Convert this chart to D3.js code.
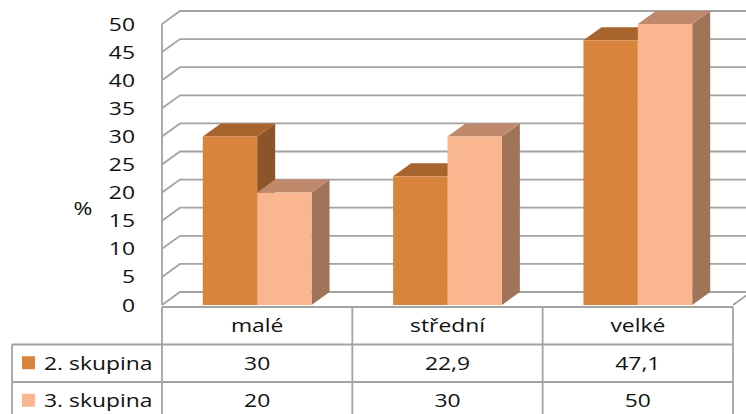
<!DOCTYPE html>
<html>
<head>
<meta charset="utf-8">
<script src="https://cdn.jsdelivr.net/npm/d3@7"></script>
<style>
  html, body { margin: 0; padding: 0; background: #fff; }
  svg { display: block; }
  text { font-family: "Open Sans", "DejaVu Sans", sans-serif; fill: #111; }
</style>
</head>
<body>
<svg id="chart" width="746" height="414"></svg>
<script>
// Data
const categories = ["malé", "střední", "velké"];
const seriesNames = ["2. skupina", "3. skupina"];
const group2 = [30, 22.9, 47.1];
const group3 = [20, 30, 50];
const group2Labels = ["30", "22,9", "47,1"];
const group3Labels = ["20", "30", "50"];
const yTicks = [0, 5, 10, 15, 20, 25, 30, 35, 40, 45, 50];
const yAxisTitle = "%";

const seriesValues = [group2, group3];
const seriesLabels = [group2Labels, group3Labels];

// Face colours per series: front, top, side
const faceColors = [
  { front: "#D9843C", top: "#A8642D", side: "#8B5429" },
  { front: "#F9B68F", top: "#BF8A6C", side: "#A07459" }
];
const lineColor = "#A3A3A3";

const svg = d3.select("#chart");
const fontSize = 18;
const textScaleX = 1.27;

// 3D depth offset of the plot box
const dx = 18, dy = -13;

const x = d3.scaleBand().domain(categories).range([162, 733]).padding(0);
const xs = d3.scaleBand().domain(seriesNames).range([0, x.bandwidth()])
  .paddingInner(0).paddingOuter(0.75);
const y = d3.scaleLinear().domain([0, 50]).range([305, 24]);

function addText(g, str, tx, ty, anchor) {
  return g.append("text")
    .attr("transform", `translate(${tx},${ty}) scale(${textScaleX},1)`)
    .attr("text-anchor", anchor)
    .attr("font-size", fontSize)
    .text(str);
}

// Walls: gridlines on the side wall and back wall
const walls = svg.append("g")
  .attr("fill", "none")
  .attr("stroke", lineColor)
  .attr("stroke-width", 1.8);

yTicks.forEach(t => {
  const yf = y(t);
  walls.append("path")
    .attr("d", `M${x.range()[0]},${yf} L${x.range()[0] + dx},${yf + dy} L${760},${yf + dy}`);
});
// side wall front edge
walls.append("line")
  .attr("x1", x.range()[0]).attr("x2", x.range()[0])
  .attr("y1", y(50)).attr("y2", y(0));
// floor right edge
walls.append("line")
  .attr("x1", x.range()[1]).attr("y1", y(0))
  .attr("x2", x.range()[1] + dx).attr("y2", y(0) + dy);

// Y axis labels
const yLabels = svg.append("g");
yTicks.forEach(t => {
  addText(yLabels, String(t), 135, y(t) + 6.5, "end");
});
addText(yLabels, yAxisTitle, 83, y(17.5) + 8, "middle");

// Bars, drawn left to right so nearer faces overlap correctly
const bars = svg.append("g");
categories.forEach((cat, ci) => {
  seriesNames.forEach((s, si) => {
    const v = seriesValues[si][ci];
    const x0 = x(cat) + xs(s);
    const x1 = x0 + xs.bandwidth();
    const yv = y(v), y0 = y(0);
    const c = faceColors[si];
    const g = bars.append("g");
    g.append("polygon")
      .attr("points", [[x1, yv], [x1 + dx, yv + dy], [x1 + dx, y0 + dy], [x1, y0]].join(" "))
      .attr("fill", c.side);
    g.append("polygon")
      .attr("points", [[x0, yv], [x0 + dx, yv + dy], [x1 + dx, yv + dy], [x1, yv]].join(" "))
      .attr("fill", c.top);
    g.append("rect")
      .attr("x", x0).attr("y", yv)
      .attr("width", x1 - x0).attr("height", y0 - yv)
      .attr("fill", c.front);
  });
});

// Data table below the plot
const table = svg.append("g");
const tTop = 307, rowH = 37.5;
const tLeft = 12, xStart = x.range()[0], xEnd = x.range()[1];
const rowLines = table.append("g")
  .attr("stroke", lineColor).attr("stroke-width", 1.8).attr("fill", "none");
rowLines.append("line").attr("x1", xStart).attr("x2", xEnd).attr("y1", tTop).attr("y2", tTop);
[1, 2].forEach(r => {
  rowLines.append("line").attr("x1", tLeft).attr("x2", xEnd)
    .attr("y1", tTop + r * rowH).attr("y2", tTop + r * rowH);
});
rowLines.append("line").attr("x1", tLeft).attr("x2", tLeft).attr("y1", tTop + rowH).attr("y2", 420);
x.domain().forEach(cat => {
  rowLines.append("line").attr("x1", x(cat)).attr("x2", x(cat)).attr("y1", tTop).attr("y2", 420);
});
rowLines.append("line").attr("x1", xEnd).attr("x2", xEnd).attr("y1", tTop).attr("y2", 420);

// header row: categories
categories.forEach(cat => {
  addText(table, cat, x(cat) + x.bandwidth() / 2, tTop + rowH / 2 + 6.5, "middle");
});
// series rows
seriesNames.forEach((s, si) => {
  const cy = tTop + rowH * (si + 1) + rowH / 2;
  table.append("rect")
    .attr("x", 22).attr("y", cy - 7)
    .attr("width", 13).attr("height", 13)
    .attr("fill", faceColors[si].front);
  addText(table, s, 44, cy + 6.5, "start");
  categories.forEach((cat, ci) => {
    addText(table, seriesLabels[si][ci], x(cat) + x.bandwidth() / 2, cy + 6.5, "middle");
  });
});
</script>
</body>
</html>
